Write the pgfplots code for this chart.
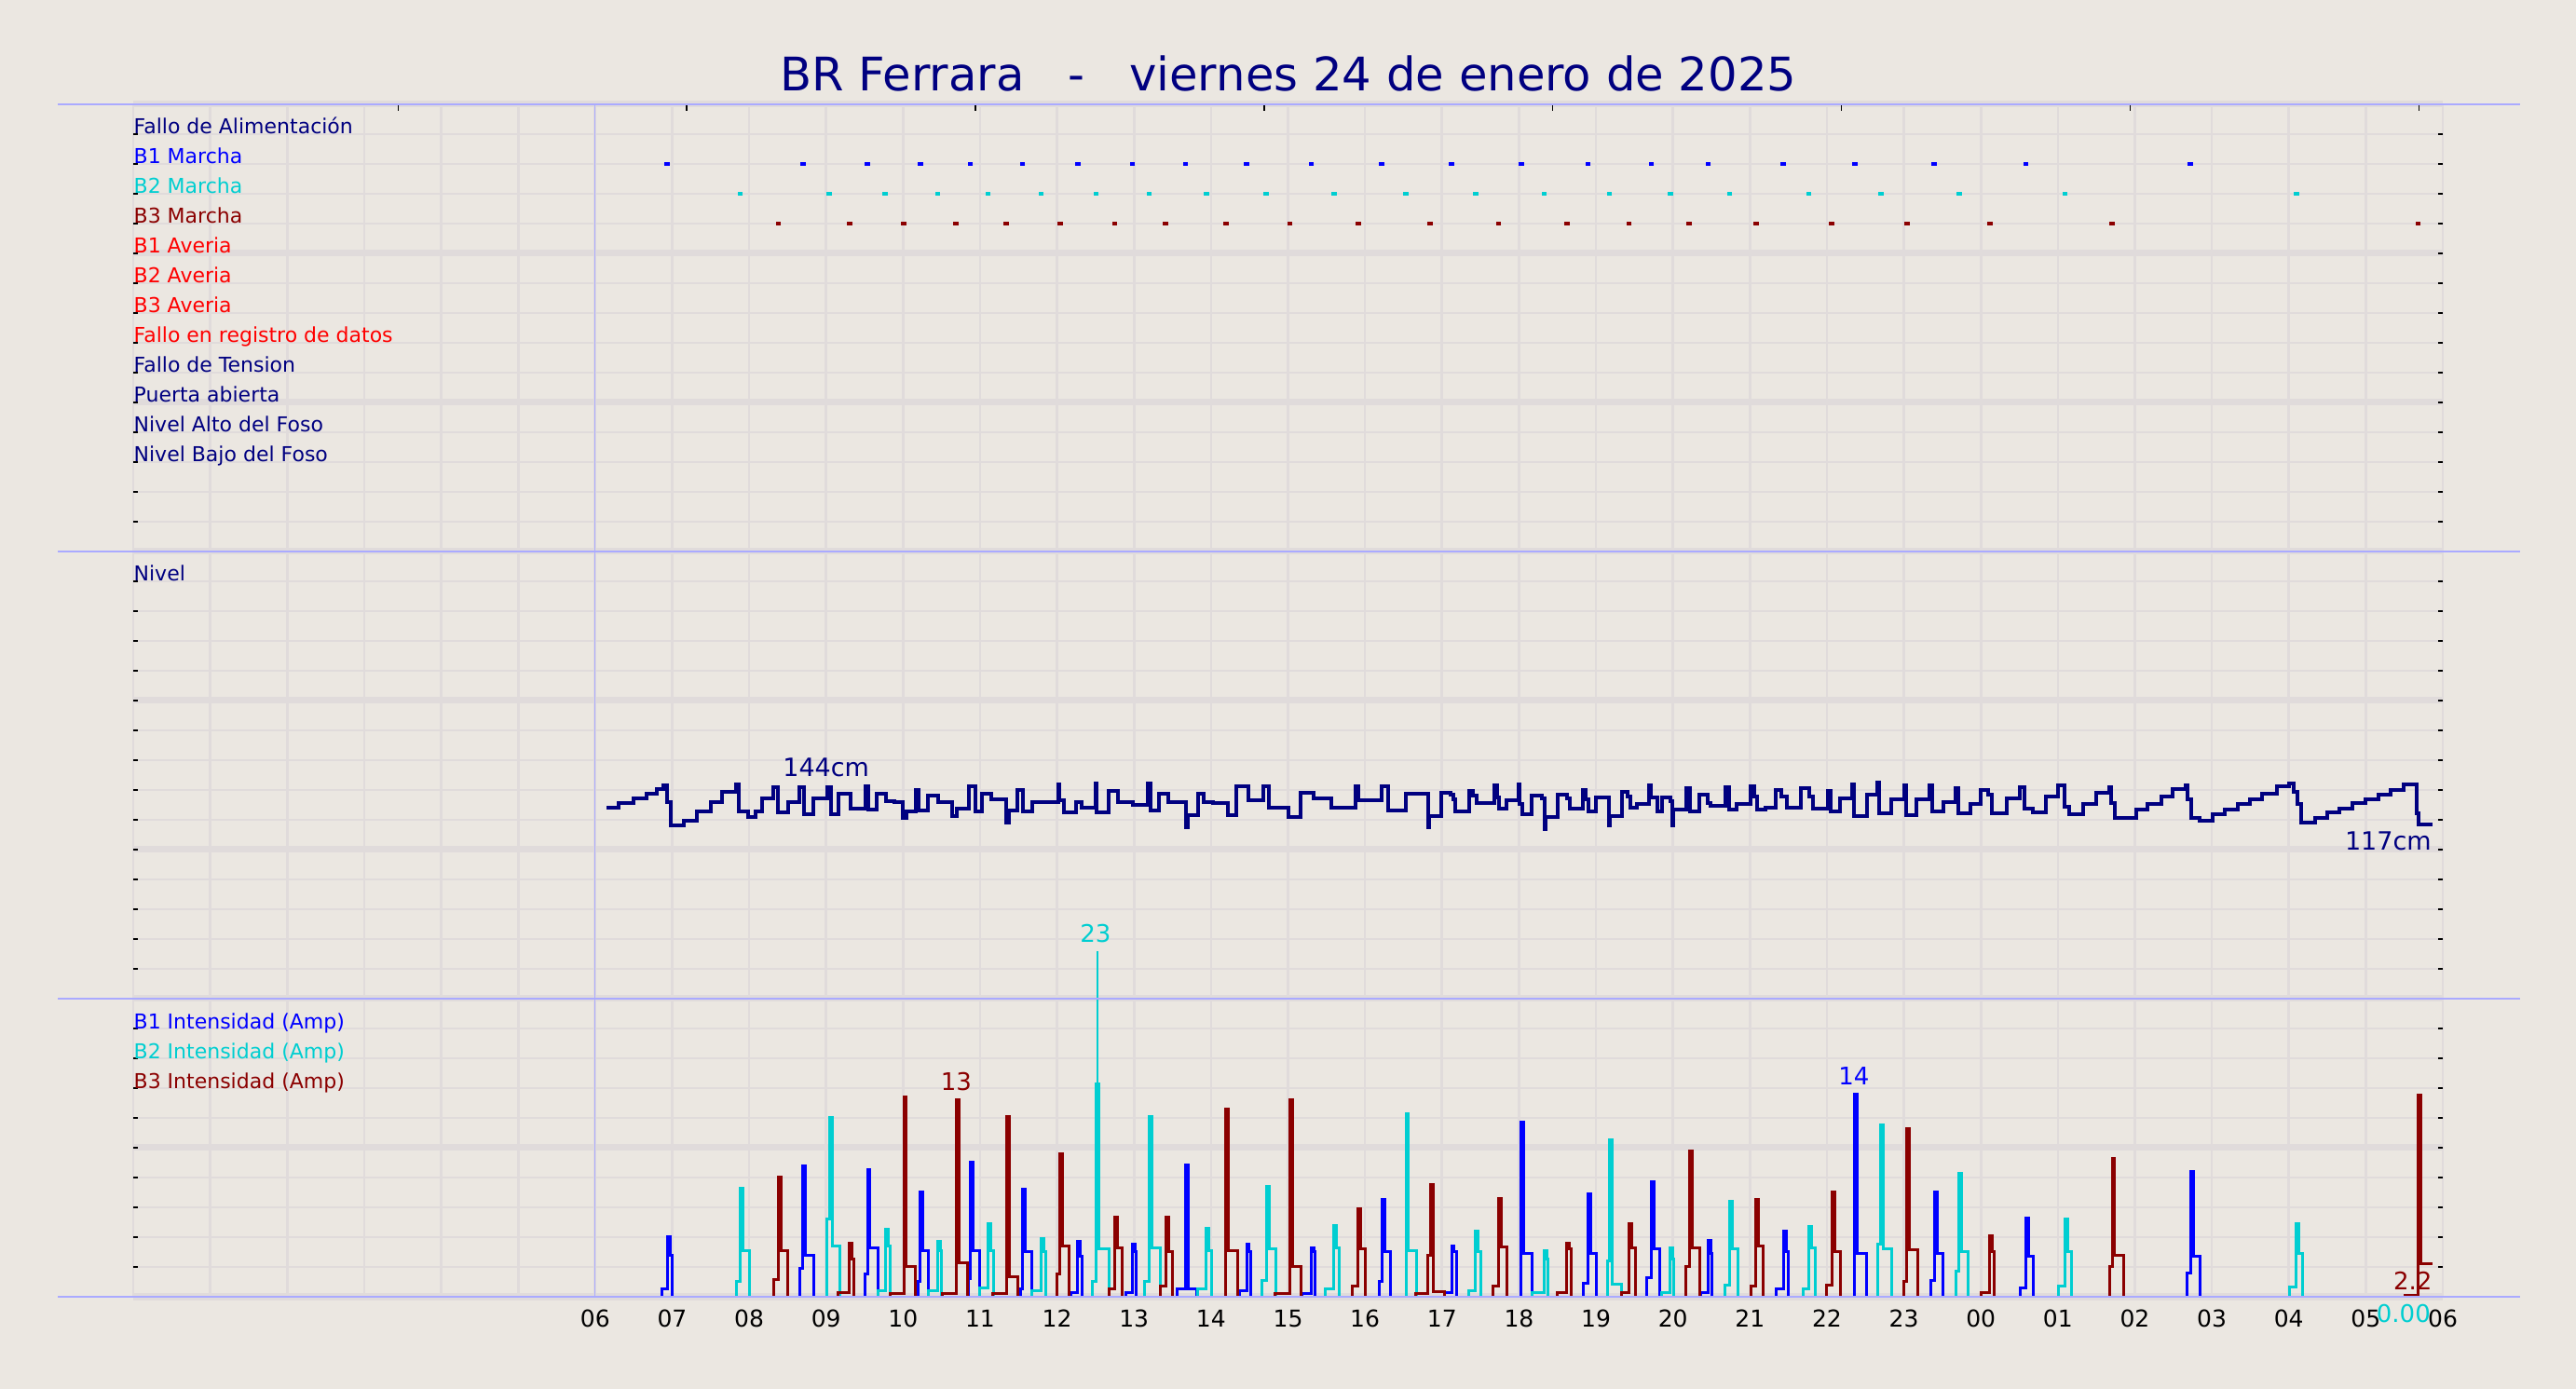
\documentclass[border=0pt]{standalone}
\usepackage{pgfplots}
\pgfplotsset{compat=1.18}
\usepackage{fontspec}
\setmainfont{DejaVu Sans}
\definecolor{bgc}{RGB}{235,231,225}
\definecolor{gridc}{RGB}{224,219,219}
\definecolor{lineb}{RGB}{170,170,255}
\definecolor{navyc}{RGB}{0,0,128}
\definecolor{bone}{RGB}{0,0,255}
\definecolor{btwo}{RGB}{0,206,209}
\definecolor{bthree}{RGB}{139,0,0}
\definecolor{redc}{RGB}{255,0,0}
\newcommand\fsLab{\fontsize{6.6bp}{7.5bp}\selectfont}
\newcommand\fsAnn{\fontsize{7.8bp}{9bp}\selectfont}
\newcommand\fsTick{\fontsize{7.5bp}{9bp}\selectfont}
\newcommand\fsLev{\fontsize{8.1bp}{9.5bp}\selectfont}
\newcommand\fsTitle{\fontsize{14.9bp}{17bp}\selectfont}
\tikzset{lab/.style={anchor=base west, inner sep=0pt, font=\fsLab}}
\pgfplotsset{
  panel/.style={
    scale only axis, width=743.7bp, xmin=0, xmax=30,
    anchor=south west,
    axis line style={draw=none},
    xtick={0,...,30}, xmajorgrids, ymajorgrids,
    every x tick/.append style={draw=none},
    major grid style={color=gridc, line width=0.8bp},
    tick style={black, line width=0.45bp},
    major tick length=1.5bp,
    tick align=inside,
    xticklabels={}, yticklabels={},
    extra y tick labels={},
    extra y tick style={grid=major, major grid style={color=gridc, line width=2.1bp}},
    clip=false,
    /pgf/number format/assume math mode=true,
  },
  amp/.style={const plot, line width=0.9bp},
}
\begin{document}
\begin{tikzpicture}
\useasboundingbox (0,0) rectangle (829.5bp,447.3bp);
\fill[bgc] (0,0) rectangle (829.5bp,447.3bp);

% ---------------- Panel 1: events ----------------
\begin{axis}[panel, at={(42.9bp,269.7bp)}, height=144bp, ymin=0, ymax=15,
  ytick={0,...,15}, extra y ticks={0,5,10,15}]
\addplot[only marks, mark=-, mark size=0.85bp, mark options={line width=0.95bp}, color=bone] coordinates {
(6.936,13)(8.70,13)(9.537,13)(10.224,13)(10.873,13)(11.552,13)(12.27,13)(12.98,13)(13.667,13)(14.462,13)(15.303,13)(16.22,13)(17.125,13)(18.03,13)(18.896,13)(19.719,13)(20.458,13)(21.434,13)(22.36,13)(23.396,13)(24.584,13)(26.723,13)};
\addplot[only marks, mark=-, mark size=0.85bp, mark options={line width=0.95bp}, color=btwo] coordinates {
(7.885,12)(9.043,12)(9.769,12)(10.448,12)(11.104,12)(11.791,12)(12.505,12)(13.196,12)(13.937,12)(14.717,12)(15.597,12)(16.531,12)(17.435,12)(18.327,12)(19.176,12)(19.965,12)(20.738,12)(21.765,12)(22.699,12)(23.718,12)(25.093,12)(28.099,12)};
\addplot[only marks, mark=-, mark size=0.85bp, mark options={line width=0.95bp}, color=bthree] coordinates {
(8.379,11)(9.306,11)(10.008,11)(10.687,11)(11.343,11)(12.038,11)(12.748,11)(13.412,11)(14.192,11)(15.026,11)(15.913,11)(16.847,11)(17.733,11)(18.624,11)(19.431,11)(20.212,11)(21.078,11)(22.063,11)(23.039,11)(24.117,11)(25.705,11)(29.678,11)};
\node[lab, text=navyc] at (axis cs:0,14) {Fallo de Alimentación};
\node[lab, text=bone] at (axis cs:0,13) {B1 Marcha};
\node[lab, text=btwo] at (axis cs:0,12) {B2 Marcha};
\node[lab, text=bthree] at (axis cs:0,11) {B3 Marcha};
\node[lab, text=redc] at (axis cs:0,10) {B1 Averia};
\node[lab, text=redc] at (axis cs:0,9) {B2 Averia};
\node[lab, text=redc] at (axis cs:0,8) {B3 Averia};
\node[lab, text=redc] at (axis cs:0,7) {Fallo en registro de datos};
\node[lab, text=navyc] at (axis cs:0,6) {Fallo de Tension};
\node[lab, text=navyc] at (axis cs:0,5) {Puerta abierta};
\node[lab, text=navyc] at (axis cs:0,4) {Nivel Alto del Foso};
\node[lab, text=navyc] at (axis cs:0,3) {Nivel Bajo del Foso};
\end{axis}

% top ticks of panel 1
\begin{axis}[scale only axis, width=743.7bp, height=144bp, at={(42.9bp,269.7bp)}, anchor=south west,
  xmin=0, xmax=30, ymin=0, ymax=15, axis line style={draw=none},
  xtick={3.44,7.19,10.94,14.69,18.44,22.19,25.94,29.69}, xtick pos=right, xticklabels={},
  ytick=\empty, major tick length=2.1bp, tick style={black, line width=0.4bp}, tick align=inside]
\end{axis}

% ---------------- Panel 2: level ----------------
\begin{axis}[panel, at={(42.9bp,125.7bp)}, height=144bp, ymin=0, ymax=300,
  ytick={0,20,...,300}, extra y ticks={0,100,200,300}]
\addplot[const plot, color=navyc, line width=1.2bp] coordinates {
(6.149,128)(6.303,131.5)(6.496,134.5)(6.666,137.5)(6.805,140.5)(6.880,143)(6.930,132)(6.982,116)
(7.152,119.6)(7.322,125.4)(7.499,132)(7.654,138.9)(7.824,144)(7.870,125.8)(7.986,122.1)
(8.078,125.4)(8.171,134.5)(8.310,141.8)(8.372,124.8)(8.503,132)(8.657,142)(8.711,123.8)(8.835,134.5)
(9.020,141.8)(9.059,123.8)(9.159,137.2)(9.313,127.5)(9.506,142.4)(9.545,126.9)(9.661,137.2)(9.777,132.4)(9.892,131.6)(9.993,121.3)
(10.047,125.4)(10.162,140.3)(10.201,126.3)(10.317,136.2)(10.456,131.6)(10.641,122.7)(10.703,127.5)(10.857,142.4)(10.934,125.4)
(11.027,137.8)(11.150,133.7)(11.336,118)(11.374,126.3)(11.490,140.3)(11.552,125.8)(11.683,132)
(12.015,143.8)(12.030,133)(12.092,124.8)(12.246,132)(12.324,128.3)(12.501,144.5)(12.517,124.8)(12.671,139.3)(12.787,132)(12.980,130)
(13.173,144.5)(13.211,126.3)(13.327,137.2)(13.443,132)(13.675,115)(13.698,123.2)(13.829,137.8)(13.906,132)
(14.022,131)(14.215,123.2)(14.331,142.4)(14.485,133)(14.678,142.4)(14.755,127.9)
(15.010,121.7)(15.164,138)(15.334,134.5)(15.566,128.3)(15.874,142.4)(15.913,133)
(16.222,142.4)(16.299,126.3)(16.531,137.2)(16.816,115)(16.839,122.7)(16.994,138)
(17.111,136.7)(17.144,133.5)(17.167,125.8)(17.352,139.4)(17.398,136)(17.445,131)(17.676,142.9)(17.713,135)(17.746,127.3)(17.839,133.1)
(18.000,144)(18.010,130.4)(18.047,123.8)(18.163,136.5)(18.302,134.6)(18.334,113.8)(18.348,122)(18.501,137)(18.626,134.6)(18.658,127.3)(18.834,139.8)(18.871,133.5)(18.904,125.8)(18.997,135.2)
(19.168,116)(19.180,122.7)(19.344,138.5)(19.413,135.6)(19.446,128.3)(19.529,130.8)(19.691,143.3)(19.714,135.2)(19.798,125.8)(19.854,135.2)(19.969,132.5)(19.993,116)
(20.006,126.7)(20.178,141.5)(20.224,125.6)(20.340,136.7)(20.456,131.5)(20.493,129.4)(20.687,141.9)(20.734,126.7)(20.826,130.8)
(21.011,142.3)(21.058,135.6)(21.095,126.9)(21.197,128.3)(21.336,139.8)(21.405,135.6)(21.484,127.9)(21.660,141.3)(21.776,135.6)(21.822,127.3)
(22.007,139.2)(22.054,125.6)(22.170,134.6)(22.332,144)(22.356,122.5)(22.516,136.7)(22.656,145)(22.679,124.2)(22.841,133.5)
(23.003,142.9)(23.026,123.1)(23.165,133.5)(23.327,142.9)(23.374,125.6)(23.513,131.9)(23.675,141.5)(23.702,124.6)(23.860,130.4)
(24.000,139.8)(24.092,136.7)(24.139,124.6)(24.332,134.2)(24.505,141.9)(24.570,127.3)(24.678,125.2)(24.850,135.6)
(25.002,142.9)(25.088,129)(25.153,123.5)(25.326,130.8)(25.498,138.1)(25.663,141.9)(25.693,131.5)(25.736,121.5)
(26.017,126.7)(26.168,130.8)(26.341,135.6)(26.492,140.4)(26.665,142.9)(26.686,134)(26.730,121.5)(26.838,119.6)
(27.010,123.5)(27.162,126.7)(27.334,130.8)(27.494,134)(27.658,137.7)(27.840,142.3)
(28.004,144.6)(28.069,138.8)(28.112,130.4)(28.155,117.9)(28.341,121.5)(28.501,124.8)(28.652,127.7)(28.825,131)(28.998,134)
(29.170,137.1)(29.322,139.8)(29.494,143.5)(29.667,124.2)(29.689,116.9)(29.862,116.9)};
\node[lab, text=navyc] at (axis cs:0,280) {Nivel};
\node[font=\fsLev, text=navyc, inner sep=0pt] at (axis cs:9.0,155) {144cm};
\node[font=\fsLev, text=navyc, inner sep=0pt] at (axis cs:29.29,106) {117cm};
\end{axis}

% ---------------- Panel 3: intensity ----------------
\begin{axis}[panel, at={(42.9bp,29.7bp)}, height=96bp, ymin=0, ymax=20,
  clip=true, clip mode=individual,
  ytick={0,2,...,20}, extra y ticks={0,10,20},
  xticklabels={,,,,,,06,07,08,09,10,11,12,13,14,15,16,17,18,19,20,21,22,23,00,01,02,03,04,05,06},
  xticklabel style={font=\fsTick, anchor=base, inner sep=0pt, yshift=-9.6bp, text=black}]
\addplot[amp, color=bone] coordinates {
(6.149,0)
(6.87,0.5)(6.936,4.0)(6.971,2.75)(6.998,0)
(8.657,1.9)(8.70,8.8)(8.735,2.8)(8.835,0)
(9.506,1.5)(9.537,8.5)(9.572,3.3)(9.676,0)
(10.193,1.0)(10.224,7.0)(10.259,3.1)(10.332,0)
(10.85,1.2)(10.873,9.0)(10.908,3.1)(10.996,0)
(11.521,0.5)(11.552,7.2)(11.587,3.0)(11.668,0)
(12.185,0.3)(12.27,3.7)(12.305,2.7)(12.324,0)
(12.90,0.3)(12.98,3.5)(13.012,3.0)(13.025,0)
(13.559,0.5)(13.667,8.85)(13.702,0.5)(13.814,0)
(14.369,0.4)(14.462,3.5)(14.494,3.0)(14.51,0)
(15.18,0.2)(15.303,3.3)(15.336,3.0)(15.355,0)
(16.18,1.0)(16.22,6.5)(16.255,3.0)(16.337,0)
(17.03,0.3)(17.125,3.4)(17.16,3.0)(17.19,0)
(18.03,11.7)(18.065,2.9)(18.174,0)
(18.836,0.9)(18.896,6.9)(18.931,2.9)(19.006,0)
(19.66,1.3)(19.719,7.7)(19.754,3.2)(19.83,0)
(20.364,0.3)(20.458,3.8)(20.493,2.9)(20.509,0)
(21.341,0.5)(21.434,4.4)(21.469,3.0)(21.502,0)
(22.36,13.6)(22.395,2.9)(22.521,0)
(23.353,1.1)(23.396,7.0)(23.431,2.9)(23.506,0)
(24.508,0.6)(24.584,5.3)(24.619,2.7)(24.686,0)
(26.681,1.6)(26.723,8.4)(26.758,2.7)(26.851,0)
(29.862,0)};
\addplot[amp, color=btwo] coordinates {
(6.149,0)
(7.831,1.0)(7.885,7.3)(7.92,3.1)(8.001,0)
(9.005,5.2)(9.043,12.0)(9.078,3.4)(9.174,0)
(9.676,0.4)(9.769,4.5)(9.804,3.4)(9.838,0)
(10.332,0.4)(10.448,3.7)(10.483,3.1)(10.5,0)
(10.996,0.6)(11.104,4.9)(11.139,3.1)(11.181,0)
(11.668,0.4)(11.791,3.9)(11.826,3.0)(11.85,0)
(12.46,1.0)(12.505,14.3)(12.54,3.2)(12.671,0)
(13.14,1.0)(13.196,12.1)(13.231,3.3)(13.343,0)
(13.829,0.5)(13.937,4.6)(13.972,3.1)(14.007,0)
(14.663,1.1)(14.717,7.4)(14.752,3.2)(14.848,0)
(15.489,0.5)(15.597,4.8)(15.632,3.3)(15.666,0)
(16.531,12.3)(16.566,3.1)(16.67,0)
(17.351,0.4)(17.435,4.4)(17.47,3.0)(17.503,0)
(18.174,0.3)(18.327,3.1)(18.362,2.5)(18.375,0)
(19.15,2.4)(19.176,10.5)(19.211,0.85)(19.337,0)
(19.847,0.3)(19.965,3.3)(20.0,2.5)(20.012,0)
(20.679,0.8)(20.738,6.4)(20.773,3.2)(20.849,0)
(21.698,0.5)(21.765,4.7)(21.80,3.3)(21.85,0)
(22.665,3.5)(22.699,11.5)(22.734,3.2)(22.844,0)
(23.676,1.7)(23.718,8.3)(23.753,3.0)(23.837,0)
(25.009,0.7)(25.093,5.2)(25.128,3.0)(25.178,0)
(28.006,0.65)(28.099,4.9)(28.134,2.9)(28.175,0)
(29.862,0)};
\addplot[amp, color=bthree] coordinates {
(6.149,0)
(8.325,1.15)(8.379,8.0)(8.414,3.1)(8.503,0)
(9.159,0.3)(9.306,3.6)(9.341,2.5)(9.355,0)
(9.838,0.2)(10.008,13.4)(10.043,2.0)(10.162,0)
(10.51,0.2)(10.687,13.2)(10.722,2.3)(10.842,0)
(11.166,0.25)(11.343,12.1)(11.378,1.35)(11.49,0)
(11.999,1.5)(12.038,9.6)(12.077,3.4)(12.154,0)
(12.671,0.5)(12.748,5.35)(12.783,3.3)(12.841,0)
(13.343,0.7)(13.412,5.35)(13.447,3.0)(13.505,0)
(14.192,12.6)(14.227,3.1)(14.346,0)
(14.832,0.2)(15.026,13.2)(15.061,2.0)(15.164,0)
(15.836,0.7)(15.913,5.9)(15.948,3.2)(16.006,0)
(16.662,0.2)(16.816,2.8)(16.847,7.5)(16.882,0.35)(17.032,0)
(17.665,0.7)(17.733,6.6)(17.768,3.35)(17.843,0)
(18.497,0.3)(18.624,3.6)(18.659,3.2)(18.684,0)
(19.337,0.3)(19.431,4.9)(19.466,3.3)(19.516,0)
(20.169,2.0)(20.212,9.8)(20.247,3.3)(20.348,0)
(21.01,0.7)(21.078,6.5)(21.113,3.4)(21.171,0)
(21.995,0.8)(22.063,7.0)(22.098,3.0)(22.173,0)
(23.0,1.0)(23.039,11.25)(23.074,3.15)(23.183,0)
(24.007,0.3)(24.117,4.1)(24.152,3.0)(24.177,0)
(25.671,2.0)(25.705,9.3)(25.74,2.8)(25.858,0)
(29.508,0.1)(29.678,13.5)(29.713,2.2)(29.862,2.2)};
\node[lab, text=bone] at (axis cs:0,18) {B1 Intensidad (Amp)};
\node[lab, text=btwo] at (axis cs:0,16) {B2 Intensidad (Amp)};
\node[lab, text=bthree] at (axis cs:0,14) {B3 Intensidad (Amp)};
\end{axis}

% overlay (unclipped) for the peak above the panel and the value labels
\begin{axis}[scale only axis, width=743.7bp, height=96bp, at={(42.9bp,29.7bp)}, anchor=south west,
  xmin=0, xmax=30, ymin=0, ymax=20, hide axis, clip=false]
\addplot[color=btwo, line width=0.6bp] coordinates {(12.52,14.3)(12.52,23.2)};
\node[font=\fsAnn, text=btwo, inner sep=0pt] at (axis cs:12.50,24.4) {23};
\node[font=\fsAnn, text=bthree, inner sep=0pt] at (axis cs:10.69,14.45) {13};
\node[font=\fsAnn, text=bone, inner sep=0pt] at (axis cs:22.35,14.8) {14};
\node[font=\fsAnn, text=bthree, inner sep=0pt] at (axis cs:29.61,1.08) {2.2};
\node[font=\fsAnn, text=btwo, inner sep=0pt] at (axis cs:29.49,-1.1) {0.00};
\end{axis}

% panel separator lines
\draw[lineb, line width=0.4bp] (18.6bp,413.7bp) -- (811.5bp,413.7bp);
\draw[lineb, line width=0.4bp] (18.6bp,269.7bp) -- (811.5bp,269.7bp);
\draw[lineb, line width=0.4bp] (18.6bp,125.7bp) -- (811.5bp,125.7bp);
\draw[lineb, line width=0.4bp] (18.6bp,29.7bp) -- (811.5bp,29.7bp);
\draw[lineb, line width=0.4bp] (191.6bp,29.7bp) -- (191.6bp,413.7bp);

% title
\node[anchor=base, inner sep=0pt, font=\fsTitle, text=navyc] at (414.9bp,417.9bp)
  {BR Ferrara\ \ \ -\ \ \ viernes 24 de enero de 2025};
\end{tikzpicture}
\end{document}
